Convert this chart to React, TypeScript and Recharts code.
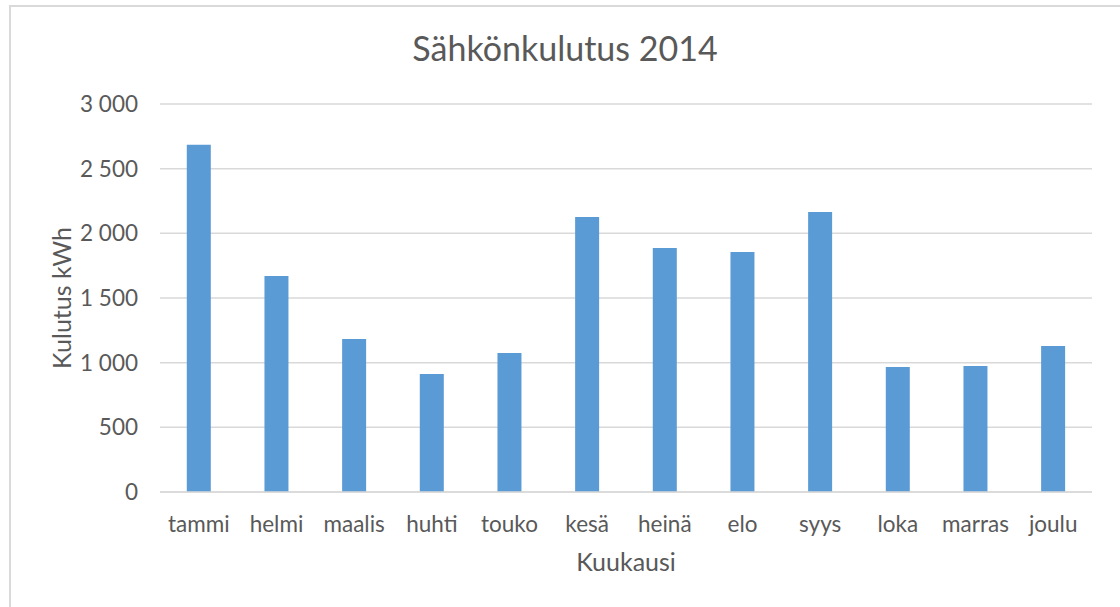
import { Bar, BarChart, CartesianGrid, Label, XAxis, YAxis } from "recharts";

const months = ["tammi", "helmi", "maalis", "huhti", "touko", "kesä", "heinä", "elo", "syys", "loka", "marras", "joulu"];
const usage = [2685, 1670, 1183, 912, 1075, 2126, 1887, 1856, 2165, 966, 974, 1129];
const yTicks = [0, 500, 1000, 1500, 2000, 2500, 3000];

const data = months.map((m, i) => ({ month: m, kwh: usage[i] }));

const FONT = "Lato, 'Liberation Sans', sans-serif";
const TEXT = "#595959";

const fmt = (v: number) => (v >= 1000 ? `${Math.floor(v / 1000)} ${String(v % 1000).padStart(3, "0")}` : String(v));

export default function App() {
  return (
    <div style={{ position: "absolute", left: 0, top: 0, width: 1120, height: 607, background: "#fff", fontFamily: FONT }}>
      <div
        style={{
          position: "absolute",
          left: 9,
          top: 5,
          right: 0,
          bottom: 0,
          borderTop: "2px solid #d9d9d9",
          borderLeft: "2px solid #d9d9d9",
        }}
      />
      <div
        style={{
          position: "absolute",
          left: 0,
          width: 1120,
          top: 27,
          textAlign: "center",
          fontSize: 34,
          color: TEXT,
          paddingLeft: 10,
          boxSizing: "border-box",
        }}
      >
        Sähkönkulutus 2014
      </div>
      <div style={{ position: "absolute", left: 0, top: 0 }}>
        <BarChart width={1120} height={607} data={data} margin={{ top: 104, right: 28, bottom: 85, left: 40 }} barCategoryGap="34.5%">
          <CartesianGrid vertical={false} stroke="#d9d9d9" strokeWidth={1.5} />
          <XAxis
            dataKey="month"
            height={30}
            tickLine={false}
            axisLine={{ stroke: "#d9d9d9", strokeWidth: 1.5 }}
            tickSize={0}
            tickMargin={24}
            tick={{ fill: TEXT, fontSize: 22.5, fontFamily: FONT }}
            interval={0}
          >
            <Label
              content={({ viewBox }: any) => (
                <text x={viewBox.x + viewBox.width / 2} y={571} textAnchor="middle" fill={TEXT} fontSize={25} fontFamily={FONT}>
                  Kuukausi
                </text>
              )}
            />
          </XAxis>
          <YAxis
            domain={[0, 3000]}
            ticks={yTicks}
            width={120}
            axisLine={false}
            tickLine={false}
            tickSize={0}
            tickMargin={22}
            tickFormatter={fmt}
            tick={{ fill: TEXT, fontSize: 22.5, fontFamily: FONT }}
          >
            <Label
              content={({ viewBox }: any) => {
                const cx = viewBox.x + 31;
                const cy = viewBox.y + viewBox.height / 2;
                return (
                  <text x={cx} y={cy} textAnchor="middle" fill={TEXT} fontSize={25} fontFamily={FONT} transform={`rotate(-90 ${cx} ${cy})`}>
                    Kulutus kWh
                  </text>
                );
              }}
            />
          </YAxis>
          <Bar dataKey="kwh" fill="#5b9bd5" isAnimationActive={false} />
        </BarChart>
      </div>
    </div>
  );
}
